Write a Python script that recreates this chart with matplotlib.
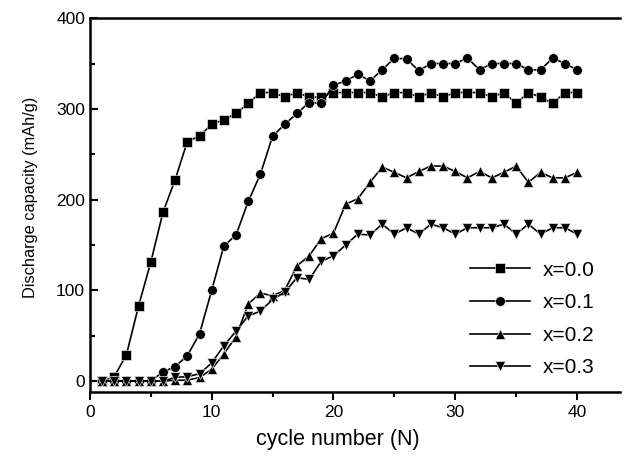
import matplotlib
matplotlib.use("Agg")
import matplotlib.pyplot as plt
from matplotlib.ticker import MultipleLocator

plt.rcParams['font.family'] = ['Liberation Sans', 'DejaVu Sans']

cycles = list(range(1, 41))

cap_00 = [0, 5, 29, 83, 131, 186, 222, 264, 270, 283, 288, 295, 306, 318, 318, 313, 318, 313, 313, 318,
          318, 318, 318, 313, 318, 318, 313, 318, 313, 318, 318, 318, 313, 318, 306, 318, 313, 306, 318, 318]
cap_01 = [0, 0, 0, 0, 0, 10, 16, 28, 52, 100, 149, 161, 198, 228, 270, 283, 295, 307, 306, 326,
          331, 338, 331, 343, 356, 355, 342, 350, 350, 350, 356, 343, 350, 350, 350, 343, 343, 356, 350, 343]
cap_02 = [0, 0, 0, 0, 0, 0, 1, 1, 4, 13, 30, 49, 85, 97, 94, 100, 127, 138, 157, 163,
          195, 201, 219, 236, 230, 224, 231, 237, 237, 231, 224, 231, 224, 230, 237, 219, 230, 224, 224, 230]
cap_03 = [0, 0, 0, 0, 0, 0, 4, 5, 8, 20, 39, 55, 72, 77, 90, 98, 114, 112, 132, 138,
          150, 162, 161, 173, 162, 169, 162, 173, 169, 162, 169, 169, 169, 173, 162, 173, 162, 169, 169, 162]

labels = ["x=0.0", "x=0.1", "x=0.2", "x=0.3"]
markers = ["s", "o", "^", "v"]

fig = plt.figure(figsize=(6.33, 4.65), dpi=100)
ax = fig.add_axes([0.142, 0.157, 0.837, 0.804])

for ys, lab, m in zip([cap_00, cap_01, cap_02, cap_03], labels, markers):
    ax.plot(cycles, ys, color="black", lw=1.2, marker=m, ms=7.5 if m != "o" else 7,
            mfc="black", mec="white", mew=0.4, label=lab)

ax.set_xlim(0, 43.5)
ax.set_ylim(-12, 400)
ax.xaxis.set_major_locator(MultipleLocator(10))
ax.xaxis.set_minor_locator(MultipleLocator(5))
ax.yaxis.set_major_locator(MultipleLocator(100))
ax.yaxis.set_minor_locator(MultipleLocator(50))
ax.tick_params(axis="both", which="major", labelsize=12.5, width=1.5, length=6)
ax.tick_params(axis="both", which="minor", width=1.5, length=3.5)
ax.tick_params(axis="y", which="both", direction="in")
ax.tick_params(axis="x", which="both", direction="out")
for s in ["left", "bottom", "top"]:
    ax.spines[s].set_linewidth(1.8)
ax.spines["right"].set_visible(False)

ax.set_xlabel("cycle number (N)", fontsize=15.5)
ax.set_ylabel("Discharge capacity (mAh/g)", fontsize=11.8)
ax.xaxis.set_label_coords(0.468, -0.10)
ax.yaxis.set_label_coords(-0.098, 0.52)

ax.legend(loc="lower right", frameon=False, fontsize=15, handlelength=2.9,
          handletextpad=0.6, labelspacing=0.65, borderaxespad=0.3,
          bbox_to_anchor=(0.98, 0.0))

fig.savefig("out.png", dpi=100)
